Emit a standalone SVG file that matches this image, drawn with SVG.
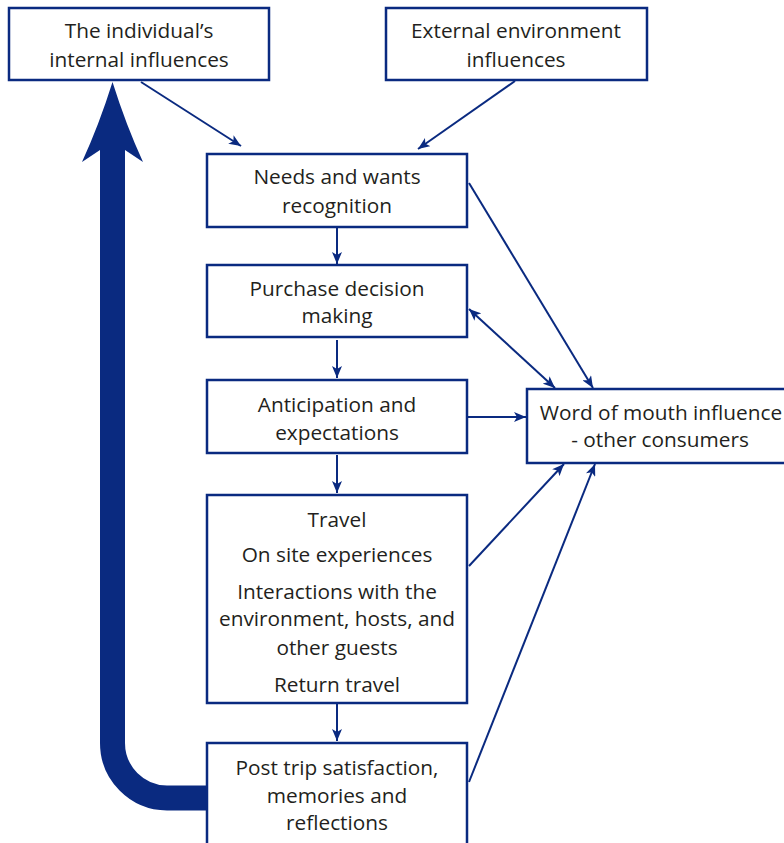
<svg xmlns="http://www.w3.org/2000/svg" width="784" height="843" viewBox="0 0 784 843">
<defs>
<style>
.box{fill:#fff;stroke:#0a2a80;stroke-width:2.5}
.t{font-family:"Open Sans","Noto Sans",sans-serif;font-size:20.8px;fill:#231f20;text-anchor:middle}
.c{stroke:#0a2a80;stroke-width:2;fill:none}
</style>
<marker id="ah" viewBox="0 0 12 10" refX="12" refY="5" markerWidth="12" markerHeight="10" markerUnits="userSpaceOnUse" orient="auto-start-reverse">
<path d="M0,0 L12,5 L0,10 L3,5 Z" fill="#0a2a80"/>
</marker>
</defs>
<rect width="784" height="843" fill="#fff"/>
<g id="connectors">
<path class="c" d="M141,82 L241,146" marker-end="url(#ah)"/>
<path class="c" d="M515,81 L418,149" marker-end="url(#ah)"/>
<path class="c" d="M337,228 L337,264" marker-end="url(#ah)"/>
<path class="c" d="M337,340 L337,378" marker-end="url(#ah)"/>
<path class="c" d="M337,455 L337,493" marker-end="url(#ah)"/>
<path class="c" d="M337,704 L337,741" marker-end="url(#ah)"/>
<path class="c" d="M469,183 L593,388" marker-end="url(#ah)"/>
<path class="c" d="M469,309 L555,388" marker-start="url(#ah)" marker-end="url(#ah)"/>
<path class="c" d="M468,417 L526,417" marker-end="url(#ah)"/>
<path class="c" d="M469,566 L564,464" marker-end="url(#ah)"/>
<path class="c" d="M469,782 L595,464" marker-end="url(#ah)"/>
<path d="M208,798 L167,798 A55,55 0 0 1 112.5,743 L112.5,148" stroke="#0a2a80" stroke-width="25" fill="none"/>
<path d="M112.5,82 Q126,125 143,162 L125,150 L100,150 L82,162 Q99,125 112.5,82 Z" fill="#0a2a80"/>
</g>
<g id="internal">
<rect class="box" x="9" y="8" width="260" height="72"/>
<text class="t" x="139" y="38">The individual’s</text>
<text class="t" x="139" y="67">internal influences</text>
</g>
<g id="external">
<rect class="box" x="386" y="8" width="261" height="72"/>
<text class="t" x="516" y="38">External environment</text>
<text class="t" x="516" y="67">influences</text>
</g>
<g id="needs">
<rect class="box" x="207" y="154" width="260" height="73"/>
<text class="t" x="337" y="184">Needs and wants</text>
<text class="t" x="337" y="213">recognition</text>
</g>
<g id="purchase">
<rect class="box" x="207" y="265" width="260" height="72"/>
<text class="t" x="337" y="296">Purchase decision</text>
<text class="t" x="337" y="323">making</text>
</g>
<g id="anticipation">
<rect class="box" x="207" y="380" width="260" height="73"/>
<text class="t" x="337" y="412">Anticipation and</text>
<text class="t" x="337" y="440">expectations</text>
</g>
<g id="travel">
<rect class="box" x="207" y="495" width="260" height="208"/>
<text class="t" x="337" y="527">Travel</text>
<text class="t" x="337" y="562">On site experiences</text>
<text class="t" x="337" y="599">Interactions with the</text>
<text class="t" x="337" y="626">environment, hosts, and</text>
<text class="t" x="337" y="655">other guests</text>
<text class="t" x="337" y="692">Return travel</text>
</g>
<g id="posttrip">
<rect class="box" x="207" y="743" width="260" height="120"/>
<text class="t" x="337" y="775">Post trip satisfaction,</text>
<text class="t" x="337" y="803">memories and</text>
<text class="t" x="337" y="830">reflections</text>
</g>
<g id="wom">
<rect class="box" x="527" y="389" width="280" height="74"/>
<text class="t" x="661" y="420">Word of mouth influence</text>
<text class="t" x="660" y="447">- other consumers</text>
</g>
</svg>
